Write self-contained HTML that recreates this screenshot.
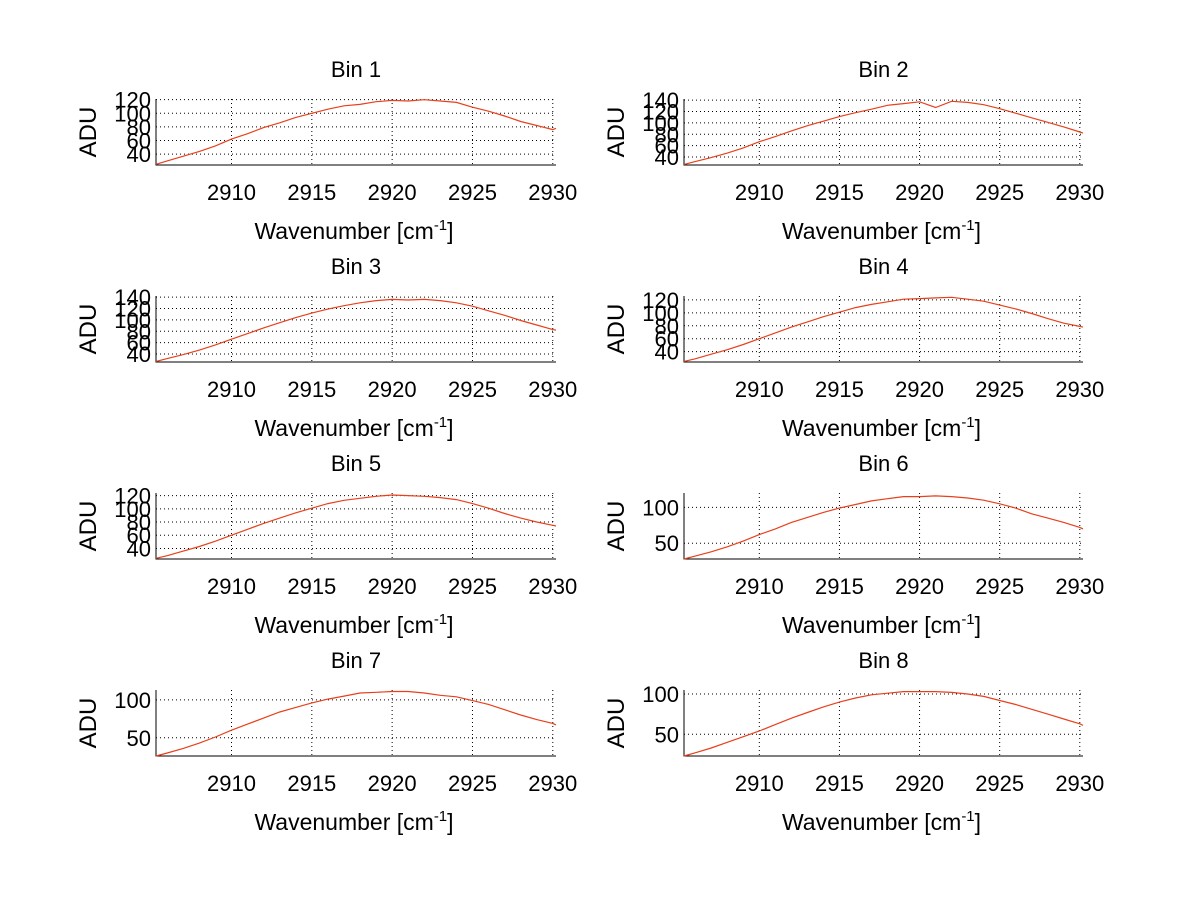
<!DOCTYPE html>
<html><head><meta charset="utf-8"><style>
body{margin:0;background:#fff;}
svg{display:block;font-family:"Liberation Sans",sans-serif;}
</style></head><body>
<svg id="fig" width="1200" height="901" viewBox="0 0 1200 901"></svg>
<script>
const xs=[2905.3,2906,2907,2908,2909,2910,2911,2912,2913,2914,2915,2916,2917,2918,2919,2920,2921,2922,2923,2924,2925,2926,2927,2928,2929,2930,2930.2];
const bin1=[25,30,37,44,52,62,70,79,86,94,100,106,111,113,117,119,118,120,118,116,109,103,96,88,82,76,78];
const bin2=[27,32,39,47,56,67,76,86,95,103,111,118,124,131,134,137,127,138,136,132,125,117,109,101,93,84,82];
const bin3=[27,32,39,47,56,66,76,86,95,104,112,119,125,130,134,136,135,136,134,130,124,116,108,99,91,83,82];
const bin4=[25,29,36,43,51,60,69,78,86,94,101,108,113,117,121,122,123,124,121,118,112,106,99,91,84,79,78];
const bin5=[25,29,36,43,51,60,69,78,86,94,101,108,113,116,119,121,120,119,117,114,108,101,93,86,80,75,74];
const bin6=[28,32,38,45,53,62,70,79,86,93,99,104,109,112,115,115,116,115,113,110,105,99,91,85,79,72,70];
const bin7=[26,30,36,43,51,60,68,76,84,90,96,101,105,109,110,111,111,109,106,104,99,94,87,80,74,69,67];
const bin8=[23,27,33,40,47,54,62,70,77,84,90,95,99,101,103,103,103,102,100,97,92,87,81,75,69,63,61];
const series=[bin1,bin2,bin3,bin4,bin5,bin6,bin7,bin8];
const titles=["Bin 1","Bin 2","Bin 3","Bin 4","Bin 5","Bin 6","Bin 7","Bin 8"];
const yMins=[24,26,26,24,24,28,26,23];
const yMaxs=[121,142,142,126,124,120,113,105];
const yTickSets=[[40,60,80,100,120],[40,60,80,100,120,140],[40,60,80,100,120,140],[40,60,80,100,120],[40,60,80,100,120],[50,100],[50,100],[50,100]];
const xTicks=[2910,2915,2920,2925,2930];
const xMin=2905.3, xMax=2930.2;

const NS="http://www.w3.org/2000/svg";
const svg=document.getElementById('fig');
function mk(tag,attrs,parent){const e=document.createElementNS(NS,tag);for(const k in attrs)e.setAttribute(k,attrs[k]);(parent||svg).appendChild(e);return e;}

for(let i=0;i<8;i++){
  const col=i%2,row=Math.floor(i/2);
  const L=col?684:156, R=col?1083:556, T=99+row*197, B=165+row*197;
  const sx=v=>L+(v-xMin)/(xMax-xMin)*(R-L);
  const sy=v=>B-(v-yMins[i])/(yMaxs[i]-yMins[i])*(B-T);
  const g=mk('g',{});
  
  
  xTicks.forEach(t=>{
    const x=sx(t);
    const gl=mk('line',{x1:x,x2:x,y1:T,y2:B,stroke:'#000','stroke-width':1,'stroke-dasharray':'1,3'},g);
    
    
    const tl=mk('text',{x:x,y:B+35,'font-size':22,'text-anchor':'middle'},g);
    tl.textContent=t;
    
    
  });
  yTickSets[i].forEach(t=>{
    const y=sy(t);
    const gl=mk('line',{x1:L,x2:R,y1:y,y2:y,stroke:'#000','stroke-width':1,'stroke-dasharray':'1,3'},g);
    
    
    const tl=mk('text',{x:L-5,y:y+8,'font-size':22,'text-anchor':'end'},g);
    tl.textContent=t;
    
    
  });
  const ax=mk('path',{d:`M${L},${T} V${B} H${R}`,fill:'none',stroke:'#000','stroke-width':1},g);
  
  
  const d=series[i].map((v,j)=>(j?'L':'M')+sx(xs[j]).toFixed(1)+','+sy(v).toFixed(1)).join(' ');
  const ln=mk('path',{d:d,fill:'none',stroke:'#e8401c','stroke-width':1.2},g);
  
  
  const cx=(L+R)/2;
  const tt=mk('text',{x:cx,y:T-22,'font-size':22,'text-anchor':'middle'},g);
  tt.textContent=titles[i];
  
  
  const xl=mk('text',{x:cx-2,y:B+74,'font-size':23,'text-anchor':'middle'},g);
  xl.innerHTML='Wavenumber [cm<tspan dy="-9" font-size="15">-1</tspan><tspan dy="9">]</tspan>';
  
  
  const yx=L-60, yy=(T+B)/2;
  const yl=mk('text',{x:yx,y:yy,'font-size':24,'text-anchor':'middle',transform:`rotate(-90 ${yx} ${yy})`},g);
  yl.textContent='ADU';
  
  
}
</script>
</body></html>
